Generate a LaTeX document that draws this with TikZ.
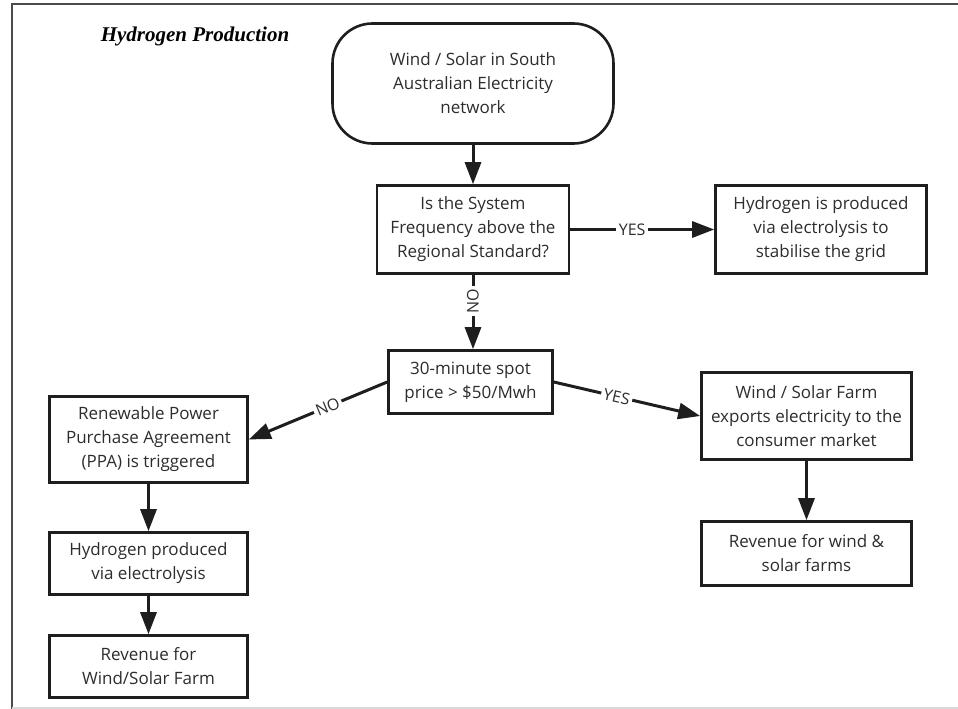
\documentclass[tikz,border=0pt]{standalone}
\usepackage{fontspec}
\setmainfont{Open Sans}
\newfontfamily\titlefont{Liberation Serif}
\usetikzlibrary{arrows.meta,calc}
\definecolor{txt}{RGB}{45,45,45}
\definecolor{edge}{RGB}{30,30,30}
\tikzset{
  box/.style={draw=edge, line width=2.6pt, fill=white, align=center, inner sep=0pt,
    text=txt, font=\fontsize{17}{24}\selectfont},
  arr/.style={draw=edge, line width=3pt, -{Triangle[length=22pt,width=16pt]}},
  lbl/.style={fill=white, text=txt, inner sep=2.5pt, font=\fontsize{16}{18}\selectfont}
}
\begin{document}
\begin{tikzpicture}[x=1pt,y=-1pt]
\useasboundingbox (0,0) rectangle (958,709);
% frame
\draw[line width=2pt, draw=black!70] (12,709) -- (12,4) -- (958,4);
\draw[line width=1.5pt, draw=black!15] (12,708) -- (958,708);
% title
\node[font=\titlefont\bfseries\itshape\fontsize{21}{24}\selectfont, anchor=base] (title) at (195,42) {Hydrogen Production};
% nodes
\node[box, rounded corners=40pt, minimum width=281pt, minimum height=120pt] (start) at (473,83.5)
  {Wind / Solar in South\\Australian Electricity\\network};
\node[box, minimum width=192pt, minimum height=88pt] (q1) at (473,229.5)
  {Is the System\\Frequency above the\\Regional Standard?};
\node[box, minimum width=211pt, minimum height=88pt] (hyd) at (821,229.5)
  {Hydrogen is produced\\via electrolysis to\\stabilise the grid};
\node[box, minimum width=164pt, minimum height=63pt] (spot) at (470.5,382)
  {30-minute spot\\price > \$50/Mwh};
\node[box, minimum width=198pt, minimum height=86pt] (ppa) at (148.5,439.5)
  {Renewable Power\\Purchase Agreement\\(PPA) is triggered};
\node[box, minimum width=198pt, minimum height=62pt] (h2) at (148.5,563.5)
  {Hydrogen produced\\via electrolysis};
\node[box, minimum width=198pt, minimum height=62pt] (rev1) at (148.5,666.5)
  {Revenue for\\Wind/Solar Farm};
\node[box, minimum width=210pt, minimum height=87pt] (exp) at (806.5,416)
  {Wind / Solar Farm\\exports electricity to the\\consumer market};
\node[box, minimum width=210pt, minimum height=64pt] (rev2) at (806.5,553.5)
  {Revenue for wind \&\\solar farms};
% connectors
\draw[arr] (start.south) -- (q1.north);
\draw[arr] (q1.east) -- node[lbl, pos=0.43] {YES} (hyd.west);
\draw[arr] (q1.south) -- node[lbl, pos=0.35, rotate=90] {NO} (q1.south |- spot.north);
\draw[arr] (spot.west) -- node[lbl, pos=0.43, sloped] {NO} (ppa.east);
\draw[arr] (spot.east) -- node[lbl, pos=0.43, sloped] {YES} (exp.west);
\draw[arr] (ppa.south) -- (h2.north);
\draw[arr] (h2.south) -- (rev1.north);
\draw[arr] (exp.south) -- (rev2.north);
\end{tikzpicture}
\end{document}
